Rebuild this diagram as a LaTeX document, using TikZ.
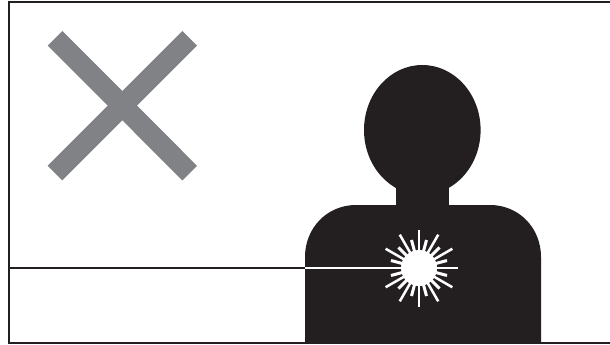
\documentclass[tikz,border=0pt]{standalone}
\definecolor{ink}{HTML}{231F20}
\definecolor{crossgray}{HTML}{808285}
\tikzset{
  frameline/.style={draw=ink,line width=2.2pt},
  crossarm/.style={draw=crossgray,line width=20.7pt},
  beamwhite/.style={draw=white,line width=2.4pt},
  rayshape/.style={draw=white,line width=2.5pt},
}
\begin{document}
\begin{tikzpicture}[x=1pt,y=-1pt]
\useasboundingbox (0,0) rectangle (610,345);
\fill[white] (0,0) rectangle (610,345);
% frame
\coordinate (fa) at (610,2.4);
\coordinate (fb) at (9,2.4);
\coordinate (fc) at (9,343);
\coordinate (fd) at (610,343);
\draw[frameline] (fa) -- (fb) -- (fc) -- (fd);
% cross
\draw[crossarm] (55,38.3) -- (189.7,173.1);
\draw[crossarm] (189.7,38.3) -- (55,173.1);
% person
\fill[ink] (422.3,130) ellipse [x radius=58.3, y radius=65];
\fill[ink] (396,180) rectangle (448.7,210);
\fill[ink] (305,343) -- (305,257) .. controls (305,228) and (327,205) .. (356,205)
  -- (490,205) .. controls (519,205) and (541,228) .. (541,257) -- (541,343) -- cycle;
% beam
\coordinate (beamstart) at (9,268);
\coordinate (bodyedge) at (305,268);
\coordinate (burst) at (419,268);
\draw[ink,line width=2.4pt] (beamstart) -- (bodyedge);
\draw[beamwhite] (bodyedge) -- (burst);
% burst
\fill[white] (burst) circle (18);
\foreach \a in {0,90,180,270,30,60,120,150,210,240,300,330}
  \draw[rayshape] (burst) ++(\a:16) -- ++(\a:22.5);
\foreach \a in {15,45,75,105,135,165,195,225,255,285,315,345}
  \draw[rayshape,line width=3pt] (burst) ++(\a:16) -- ++(\a:13);
\end{tikzpicture}
\end{document}
